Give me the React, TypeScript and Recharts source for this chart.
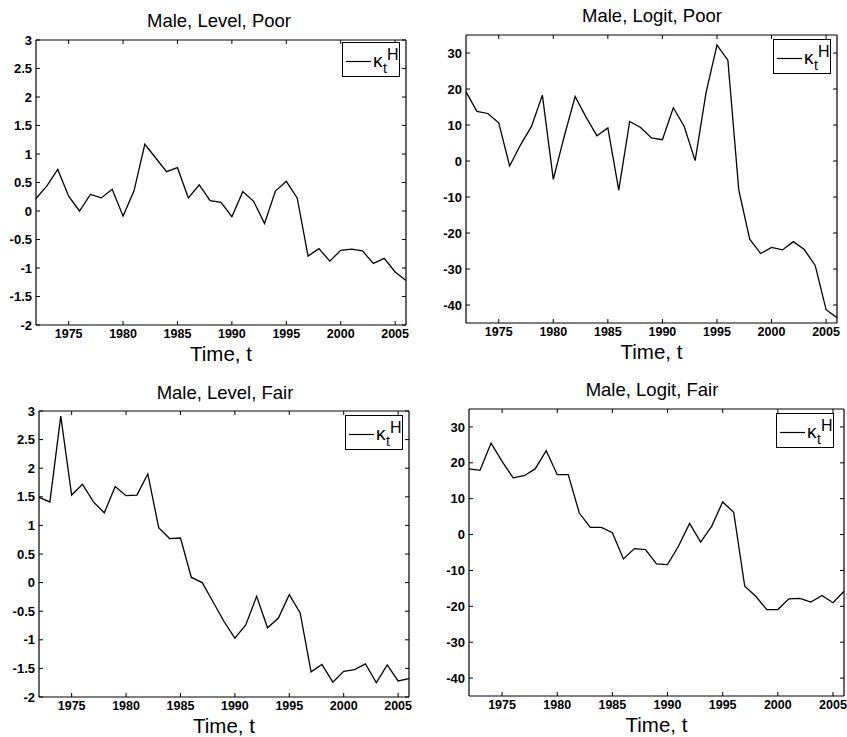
import { LineChart, Line, XAxis, YAxis, Legend, Label } from 'recharts'

const years = [
  1972, 1973, 1974, 1975, 1976, 1977, 1978, 1979, 1980, 1981, 1982, 1983,
  1984, 1985, 1986, 1987, 1988, 1989, 1990, 1991, 1992, 1993, 1994, 1995,
  1996, 1997, 1998, 1999, 2000, 2001, 2002, 2003, 2004, 2005, 2006,
]

const levelPoor = [
  0.22, 0.44, 0.73, 0.26, 0.0, 0.29, 0.23, 0.38, -0.09, 0.35, 1.17, 0.93,
  0.69, 0.76, 0.23, 0.46, 0.18, 0.15, -0.1, 0.34, 0.17, -0.22, 0.35, 0.52,
  0.23, -0.79, -0.66, -0.88, -0.69, -0.67, -0.7, -0.92, -0.83, -1.07, -1.22,
]

const logitPoor = [
  19.2, 13.8, 13.2, 10.6, -1.4, 4.5, 9.6, 18.3, -5.1, 6.8, 17.9, 12.2,
  7.0, 9.2, -8.1, 11.0, 9.3, 6.4, 5.9, 14.8, 9.6, 0.1, 19.0, 32.2,
  28.0, -8.1, -21.7, -25.7, -24.0, -24.7, -22.4, -24.6, -29.0, -41.3, -43.5,
]

const levelFair = [
  1.49, 1.41, 2.91, 1.53, 1.72, 1.41, 1.22, 1.68, 1.52, 1.53, 1.9, 0.96,
  0.77, 0.78, 0.09, 0.0, -0.34, -0.68, -0.97, -0.74, -0.24, -0.79, -0.62, -0.21,
  -0.53, -1.56, -1.43, -1.74, -1.55, -1.52, -1.42, -1.75, -1.44, -1.72, -1.68,
]

const logitFair = [
  18.3, 17.9, 25.5, 20.4, 15.8, 16.4, 18.3, 23.4, 16.7, 16.7, 6.0, 2.0,
  2.0, 0.5, -6.8, -3.9, -4.2, -8.2, -8.4, -3.2, 3.1, -2.1, 2.3, 9.1,
  6.2, -14.4, -17.2, -20.9, -20.9, -17.9, -17.8, -18.8, -17.0, -19.0, -15.8,
]

const xTicks = [1975, 1980, 1985, 1990, 1995, 2000, 2005]
const levelTicks = [-2, -1.5, -1, -0.5, 0, 0.5, 1, 1.5, 2, 2.5, 3]
const logitTicks = [-40, -30, -20, -10, 0, 10, 20, 30]

const FONT = '"Liberation Sans", Arial, Helvetica, sans-serif'
const YW = 40 // y axis width
const MT = 6 // top margin
const TOPH = 4 // top (box) axis height
const RW = 4 // right (box) axis width
const XH = 45 // x axis height incl. label

type PanelProps = {
  title: string
  values: number[]
  domain: [number, number]
  ticks: number[]
  x0: number
  y0: number
  x1: number
  y1: number
  titleTop: number
  titleCx: number
  legendX: number
  legendY: number
}

function KappaLegend() {
  return (
    <svg width={58} height={35} style={{ display: 'block' }}>
      <rect x={0.5} y={0.5} width={57} height={34} fill="#fff" stroke="#000" strokeWidth={1} />
      <line x1={4} x2={29} y1={19.5} y2={19.5} stroke="#000" strokeWidth={1.2} />
      <text x={31} y={25} fontFamily={FONT} fontSize={19} fill="#000">
        κ
        <tspan x={41} y={31} fontSize={14}>t</tspan>
        <tspan x={45} y={18} fontSize={16}>H</tspan>
      </text>
    </svg>
  )
}

function Panel(p: PanelProps) {
  const data = years.map((year, i) => ({ year, v: p.values[i] }))
  const left = p.x0 - YW
  const top = p.y0 - MT - TOPH
  const width = p.x1 - p.x0 + YW + RW
  const height = p.y1 - p.y0 + MT + TOPH + XH
  const xTickStyle = { fill: '#000', fontSize: 12.5, fontWeight: 700, fontFamily: FONT }
  const yTickStyle = { fill: '#000', fontSize: 13, fontWeight: 700, fontFamily: FONT }
  const empty = () => ''

  return (
    <>
      <div
        style={{
          position: 'absolute',
          left: p.titleCx - 120,
          width: 240,
          top: p.titleTop,
          textAlign: 'center',
          fontFamily: FONT,
          fontSize: 18.5,
          lineHeight: 1,
          color: '#000',
        }}
      >
        {p.title}
      </div>
      <div style={{ position: 'absolute', left, top }}>
        <LineChart width={width} height={height} data={data} margin={{ top: MT, right: 0, left: 0, bottom: 0 }}>
          <XAxis
            dataKey="year"
            type="number"
            domain={[1972, 2006]}
            ticks={xTicks}
            allowDataOverflow
            height={XH}
            tickSize={-4}
            tickMargin={8}
            tick={xTickStyle}
            axisLine={{ stroke: '#000', strokeWidth: 1.2 }}
            tickLine={{ stroke: '#000' }}
          >
            <Label
              value="Time, t"
              position="insideBottom"
              offset={9}
              style={{ fill: '#000', fontSize: 20.5, fontFamily: FONT }}
            />
          </XAxis>
          <XAxis
            xAxisId="top"
            orientation="top"
            dataKey="year"
            type="number"
            domain={[1972, 2006]}
            ticks={xTicks}
            allowDataOverflow
            height={TOPH}
            tickSize={-4}
            tickFormatter={empty}
            axisLine={{ stroke: '#000', strokeWidth: 1.2 }}
            tickLine={{ stroke: '#000' }}
          />
          <YAxis
            type="number"
            domain={p.domain}
            ticks={p.ticks}
            allowDataOverflow
            width={YW}
            tickSize={-4}
            tickMargin={8}
            tick={yTickStyle}
            axisLine={{ stroke: '#000', strokeWidth: 1.2 }}
            tickLine={{ stroke: '#000' }}
          />
          <YAxis
            yAxisId="right"
            orientation="right"
            type="number"
            domain={p.domain}
            ticks={p.ticks}
            allowDataOverflow
            width={RW}
            tickSize={-4}
            tickFormatter={empty}
            axisLine={{ stroke: '#000', strokeWidth: 1.2 }}
            tickLine={{ stroke: '#000' }}
          />
          <Legend
            layout="vertical"
            align="center"
            verticalAlign="middle"
            content={() => <KappaLegend />}
            wrapperStyle={{ position: 'absolute', left: p.legendX - left, top: p.legendY - top, width: 58, height: 35 }}
          />
          <Line
            type="linear"
            dataKey="v"
            name="kappa"
            stroke="#000"
            strokeWidth={1.3}
            dot={false}
            isAnimationActive={false}
          />
        </LineChart>
      </div>
    </>
  )
}

export default function App() {
  return (
    <div style={{ position: 'absolute', left: 0, top: 0, width: 847, height: 737, overflow: 'hidden', background: '#fff' }}>
      <Panel
        title="Male, Level, Poor"
        values={levelPoor}
        domain={[-2, 3]}
        ticks={levelTicks}
        x0={36}
        y0={40}
        x1={406}
        y1={325}
        titleTop={11.5}
        titleCx={219}
        legendX={342}
        legendY={42}
      />
      <Panel
        title="Male, Logit, Poor"
        values={logitPoor}
        domain={[-45, 35]}
        ticks={logitTicks}
        x0={466}
        y0={35}
        x1={837}
        y1={323}
        titleTop={7}
        titleCx={652}
        legendX={773}
        legendY={39}
      />
      <Panel
        title="Male, Level, Fair"
        values={levelFair}
        domain={[-2, 3]}
        ticks={levelTicks}
        x0={39}
        y0={411}
        x1={409}
        y1={697}
        titleTop={383.5}
        titleCx={225}
        legendX={345}
        legendY={415}
      />
      <Panel
        title="Male, Logit, Fair"
        values={logitFair}
        domain={[-45, 35]}
        ticks={logitTicks}
        x0={469}
        y0={409}
        x1={844}
        y1={696}
        titleTop={380.5}
        titleCx={652}
        legendX={776}
        legendY={413}
      />
    </div>
  )
}
